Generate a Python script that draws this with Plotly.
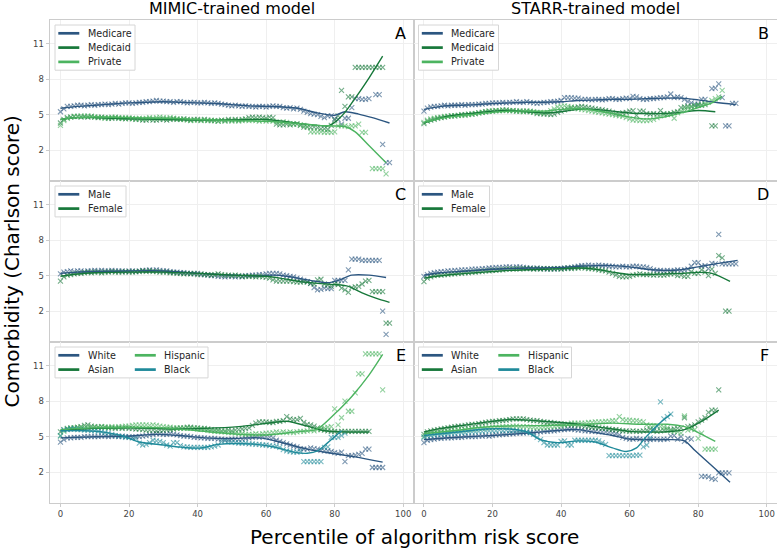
import plotly.graph_objects as go
from plotly.subplots import make_subplots

# ---------------- data ----------------
PCT = list(range(0, 97))  # percentile bins of algorithm risk score

# Panel A (MIMIC, insurance) - binned means
A_medicare = [5.25,5.5,5.7,5.7,5.75,5.8,5.8,5.75,5.8,5.85,
              5.8,5.85,5.85,5.9,5.85,5.9,5.95,5.9,5.95,6.0,
              6.0,5.95,6.0,6.05,6.05,6.1,6.1,6.15,6.2,6.15,
              6.15,6.1,6.1,6.05,6.1,6.1,6.05,6.0,6.05,6.05,
              6.0,6.0,6.05,6.0,5.95,6.0,5.95,5.9,5.85,5.8,
              5.75,5.8,5.75,5.7,5.75,5.7,5.7,5.65,5.7,5.7,
              5.65,5.7,5.75,5.7,5.7,5.6,5.55,5.6,5.5,5.55,
              5.45,5.3,5.2,5.1,5.05,5.0,4.85,4.75,4.9,4.9,
              4.65,4.6,4.2,4.7,4.7,5.6,6.35,6.35,6.3,6.3,
              6.35,None,6.7,6.7,2.5,0.95,0.95]
A_medicaid = [4.3,4.6,4.75,4.8,4.85,4.85,4.8,4.85,4.8,4.85,
              4.8,4.75,4.8,4.75,4.7,4.7,4.75,4.7,4.7,4.65,
              4.7,4.65,4.6,4.6,4.55,4.55,4.6,4.55,4.55,4.6,
              4.6,4.55,4.6,4.65,4.6,4.6,4.65,4.6,4.55,4.6,
              4.6,4.55,4.6,4.55,4.5,4.5,4.45,4.55,4.5,4.6,
              4.55,4.6,4.55,4.6,4.65,4.75,4.8,4.75,4.8,4.75,
              4.7,4.8,4.75,4.2,4.15,4.15,4.2,4.15,4.2,4.2,
              4.1,3.95,3.95,3.9,3.95,3.9,3.8,3.8,3.75,4.1,
              4.55,4.9,7.05,5.7,6.5,6.5,9.0,9.0,9.0,9.0,
              9.0,9.0,9.0,9.0,9.0]
A_private = [4.1,4.5,4.7,4.8,4.85,4.85,4.9,4.85,4.9,4.85,
             4.8,4.8,4.75,4.7,4.75,4.8,4.8,4.75,4.7,4.75,
             4.7,4.7,4.65,4.7,4.65,4.7,4.75,4.7,4.75,4.8,
             4.75,4.7,4.75,4.7,4.65,4.6,4.6,4.55,4.5,4.55,
             4.55,4.5,4.55,4.5,4.55,4.5,4.45,4.5,4.45,4.5,
             4.45,4.5,4.45,4.5,4.55,4.5,4.55,4.5,4.45,4.5,
             4.45,4.5,4.45,4.4,4.35,4.4,4.35,4.25,4.2,4.25,
             4.15,4.1,4.0,3.55,3.55,3.55,3.55,3.5,3.5,3.5,
             3.55,4.05,4.05,4.05,4.0,4.05,4.05,4.2,3.5,3.5,
             None,0.45,0.45,0.45,0.45,0.0]

# Panel B (STARR, insurance)
B_medicare = [5.3,5.55,5.65,5.7,5.7,5.75,5.8,5.75,5.8,5.8,
              5.8,5.85,5.8,5.85,5.85,5.85,5.9,5.9,5.95,5.95,
              6.0,6.0,6.0,6.05,6.0,6.05,6.05,6.1,6.05,6.05,
              6.1,6.05,6.0,5.95,6.0,6.05,6.05,6.1,6.1,6.15,
              6.2,6.45,6.45,6.45,6.4,6.4,6.3,6.3,6.3,6.25,
              6.3,6.3,6.25,6.3,6.35,6.35,6.3,6.3,6.35,6.4,
              6.35,6.55,6.5,6.35,6.3,6.3,6.35,6.35,6.4,6.45,
              6.45,6.5,6.75,6.45,6.5,6.45,6.3,6.1,6.0,5.9,
              5.9,6.3,6.3,None,7.2,7.25,7.6,6.45,4.05,4.05,
              5.95,5.95]
B_medicaid = [4.25,4.45,4.55,4.6,4.7,4.75,4.8,4.85,4.9,4.9,
              4.95,5.0,5.0,5.05,5.05,5.1,5.15,5.2,5.25,5.3,
              5.3,5.35,5.35,5.4,5.4,5.35,5.35,5.3,5.3,5.3,
              5.3,5.25,5.2,5.1,5.1,5.05,5.05,5.0,5.05,5.2,
              5.3,5.4,5.5,5.55,5.6,5.65,5.7,5.65,5.6,5.55,
              5.5,5.45,5.4,5.35,5.3,5.2,5.1,5.05,5.15,5.2,
              5.3,5.35,4.95,5.3,5.3,5.1,5.05,5.1,5.05,5.35,
              5.1,5.05,5.1,5.2,5.25,5.6,5.65,5.7,5.7,5.75,
              5.8,5.8,5.85,None,4.05,4.05]
B_private = [4.35,4.55,4.65,4.7,4.75,4.8,4.85,4.85,4.9,4.9,
             4.95,4.95,4.95,5.0,5.05,5.1,5.15,5.2,5.25,5.3,
             5.3,5.35,5.35,5.35,5.35,5.35,5.35,5.3,5.3,5.25,
             5.3,5.3,5.25,5.2,5.2,5.15,5.2,5.35,5.5,5.65,
             5.7,5.75,5.7,5.65,5.55,5.5,5.45,5.4,5.35,5.3,
             5.25,5.2,5.15,5.1,5.05,5.0,4.95,4.9,4.85,4.75,
             4.65,4.55,4.55,4.5,4.5,4.5,4.55,4.6,4.75,4.9,
             4.95,5.0,5.1,4.7,5.15,5.3,5.45,5.55,5.65,5.75,
             5.8,5.85,5.95,6.05,6.2,6.35,6.5,7.05]

# Panel C (MIMIC, sex)
C_male = [5.15,5.3,5.35,5.4,5.35,5.4,5.4,5.35,5.4,5.4,
          5.45,5.4,5.45,5.4,5.4,5.45,5.4,5.4,5.4,5.35,
          5.4,5.4,5.35,5.4,5.45,5.45,5.5,5.45,5.5,5.45,
          5.4,5.4,5.35,5.3,5.3,5.25,5.25,5.2,5.2,5.15,
          5.2,5.1,5.1,5.05,5.0,5.0,4.95,4.95,4.9,4.95,
          4.95,4.9,4.95,4.9,5.0,5.0,5.05,5.05,5.1,5.1,
          5.15,5.2,5.2,5.2,5.15,5.05,5.0,4.95,4.9,4.8,
          4.7,4.6,4.5,4.35,4.0,3.8,3.85,3.95,3.9,3.9,
          4.6,4.6,4.6,4.6,5.5,6.4,6.4,6.4,6.3,6.3,
          6.3,6.3,6.3,6.3,2.0,0.05]
C_female = [4.55,4.9,5.05,5.1,5.15,5.2,5.2,5.25,5.3,5.25,
            5.3,5.3,5.25,5.3,5.3,5.35,5.3,5.3,5.3,5.35,
            5.3,5.3,5.35,5.35,5.4,5.35,5.4,5.35,5.35,5.3,
            5.3,5.3,5.25,5.25,5.2,5.2,5.15,5.2,5.15,5.2,
            5.1,5.15,5.1,5.1,5.05,5.1,5.15,5.1,5.05,5.05,
            5.0,5.05,5.0,4.95,4.95,4.95,4.95,4.9,4.95,4.9,
            4.85,4.8,4.65,4.55,4.55,4.55,4.55,4.55,4.5,4.45,
            4.45,4.5,4.45,4.35,4.3,4.65,4.7,4.3,4.2,4.1,
            4.3,4.25,3.95,3.8,3.6,4.0,4.05,4.1,4.3,4.55,
            4.6,3.65,3.65,3.65,3.65,1.0,1.0]

# Panel D (STARR, sex)
D_male = [4.95,5.1,5.2,5.25,5.3,5.35,5.35,5.4,5.4,5.45,
          5.45,5.5,5.5,5.5,5.55,5.55,5.55,5.6,5.6,5.65,
          5.65,5.7,5.7,5.7,5.75,5.75,5.7,5.75,5.75,5.7,
          5.65,5.65,5.6,5.65,5.6,5.6,5.55,5.6,5.55,5.6,
          5.6,5.65,5.65,5.7,5.75,5.8,5.85,5.85,5.9,5.85,
          5.85,5.9,5.85,5.85,5.8,5.8,5.75,5.75,5.8,5.75,
          5.75,5.8,5.8,5.75,5.75,5.7,5.6,5.5,5.45,5.45,
          5.4,5.45,5.4,5.45,5.5,5.45,5.5,5.55,5.8,6.1,
          6.1,5.8,5.85,5.6,6.05,6.0,8.5,6.0,6.0,6.0,
          6.0,6.0]
D_female = [4.5,4.8,4.9,5.0,5.05,5.05,5.1,5.1,5.15,5.15,
            5.2,5.2,5.25,5.25,5.3,5.3,5.35,5.35,5.4,5.4,
            5.45,5.45,5.5,5.5,5.55,5.55,5.55,5.6,5.55,5.6,
            5.6,5.6,5.55,5.6,5.55,5.6,5.6,5.55,5.6,5.6,
            5.55,5.6,5.65,5.6,5.65,5.65,5.7,5.65,5.6,5.6,
            5.55,5.5,5.45,5.4,5.3,5.2,5.05,4.95,4.9,4.9,
            4.95,5.05,5.1,5.15,5.1,5.1,5.1,5.05,5.1,5.05,
            5.05,5.1,5.15,5.15,5.0,5.05,4.95,4.95,5.35,5.2,
            5.2,5.5,5.3,5.0,5.55,5.2,6.7,6.5,2.0,2.0]

# Panel E (MIMIC, race/ethnicity)
E_white = [4.55,4.75,4.9,4.9,4.95,4.95,4.95,5.0,5.0,5.0,
           5.0,5.0,5.05,5.05,5.0,5.05,5.05,5.0,5.05,5.0,
           5.0,4.95,5.0,5.0,5.05,5.1,5.15,5.2,5.25,5.25,
           5.2,5.2,5.25,5.2,5.15,5.1,5.05,5.05,5.0,4.95,
           4.95,4.9,4.9,4.85,4.85,4.85,4.8,4.8,4.75,4.75,
           4.8,4.8,4.75,4.8,4.85,4.9,4.95,5.0,4.95,5.0,
           5.0,4.95,4.9,4.7,4.6,4.5,4.4,4.3,4.2,4.15,
           4.0,3.95,3.95,4.05,4.0,3.95,3.85,3.8,3.8,3.75,
           3.65,3.6,3.7,2.9,3.4,3.4,3.45,3.5,3.6,3.95,
           3.95,2.4,2.4,2.4,2.4]
E_asian = [5.4,5.6,5.7,5.75,5.75,5.8,5.85,5.95,6.0,5.9,
           5.85,5.8,5.85,5.8,5.75,5.75,5.7,5.75,5.7,5.75,
           5.7,5.7,5.65,5.65,5.6,5.55,5.55,5.55,5.5,5.55,
           5.55,5.6,5.6,5.65,5.7,5.75,5.75,5.8,5.8,5.75,
           5.75,5.7,5.7,5.65,5.6,5.55,5.55,5.5,5.5,5.55,
           5.5,5.55,5.6,5.65,5.7,5.75,5.95,6.15,6.25,6.25,
           6.25,6.2,6.2,6.3,6.3,6.35,6.7,6.5,6.45,6.45,
           6.55,6.2,6.05,6.0,5.9,5.75,5.6,5.55,5.5,5.45,
           5.45,5.4,5.45,5.45,5.45,5.45,5.45,5.45,5.45,5.45,
           5.45]
E_hispanic = [5.05,5.45,5.65,5.7,5.75,5.75,5.8,5.75,5.8,5.75,
              5.8,5.8,5.85,5.8,5.8,5.85,5.8,5.85,5.85,5.9,
              5.9,5.95,6.0,6.0,6.0,6.0,5.95,6.0,5.95,5.9,
              5.85,5.8,5.8,5.75,5.75,5.7,5.7,5.75,5.7,5.7,
              5.65,5.65,5.6,5.55,5.5,5.45,5.45,5.4,5.4,5.35,
              5.35,5.3,5.25,5.25,5.2,5.2,5.2,5.25,5.2,5.25,
              5.3,5.3,5.35,5.4,5.35,5.4,5.35,5.4,5.35,5.4,
              5.45,5.45,5.5,5.55,5.5,5.6,5.65,5.75,5.8,5.85,
              7.35,6.0,6.6,8.0,7.15,7.15,8.7,10.3,10.3,12.0,
              12.0,12.0,12.0,12.0,8.95]
E_black = [5.1,5.55,5.6,5.65,5.65,5.6,5.6,5.55,5.55,5.5,
           5.5,5.45,5.4,5.35,5.3,5.2,5.1,5.05,5.0,4.95,
           4.95,4.9,4.85,4.45,4.3,4.35,4.5,4.7,4.65,4.6,
           4.5,4.3,4.2,4.5,4.5,4.25,4.15,4.15,4.1,4.1,
           4.1,4.1,4.1,4.1,4.15,4.2,4.3,4.6,4.65,4.6,
           4.55,4.5,4.45,4.45,4.45,4.4,4.4,4.35,4.35,4.3,
           4.3,4.25,4.2,4.2,4.1,3.9,3.8,3.75,3.7,3.7,
           3.75,2.9,2.9,2.9,2.9,2.9,2.9,4.1,4.15,4.95,
           4.95,4.95,5.1,5.3]

# Panel F (STARR, race/ethnicity)
F_white = [4.5,4.7,4.75,4.8,4.85,4.85,4.9,4.9,4.9,4.95,
           4.95,4.95,5.0,5.0,5.0,5.0,5.05,5.05,5.1,5.05,
           5.1,5.15,5.15,5.2,5.2,5.25,5.25,5.3,5.3,5.3,
           5.35,5.35,5.35,5.4,5.4,5.45,5.45,5.5,5.5,5.55,
           5.6,5.6,5.65,5.65,5.6,5.55,5.55,5.5,5.5,5.45,
           5.45,5.4,5.4,5.4,5.35,5.3,5.25,5.15,4.95,4.85,
           4.8,4.8,4.85,4.8,4.75,4.75,4.75,4.8,4.8,4.75,
           4.8,4.8,5.05,5.1,4.8,5.0,4.6,4.85,4.8,None,
           None,1.65,1.65,1.6,1.45,1.4,1.95,1.95,1.95,1.95]
F_asian = [5.2,5.4,5.5,5.55,5.6,5.65,5.7,5.75,5.8,5.85,
           5.9,5.9,5.95,6.0,6.05,6.05,6.1,6.15,6.2,6.25,
           6.3,6.3,6.35,6.35,6.4,6.45,6.5,6.5,6.5,6.5,
           6.45,6.4,6.35,6.35,6.3,6.25,6.2,6.2,6.15,6.1,
           6.1,6.05,6.05,6.0,6.0,5.95,5.95,5.9,5.85,5.8,
           5.8,5.75,5.7,5.7,5.65,5.6,5.6,5.55,5.5,5.5,
           5.45,5.5,5.45,5.45,5.5,5.55,5.65,5.5,5.45,5.5,
           5.55,5.6,5.6,5.65,5.7,5.75,6.6,5.85,5.9,6.0,
           6.25,6.4,6.6,7.05,7.25,7.25,8.95]
F_hispanic = [5.0,5.2,5.3,5.35,5.35,5.4,5.4,5.45,5.5,5.5,
              5.55,5.55,5.6,5.6,5.65,5.65,5.7,5.7,5.75,5.75,
              5.8,5.8,5.8,5.85,5.85,5.85,5.9,5.9,5.85,5.85,
              5.85,5.8,5.8,5.75,5.75,5.8,5.8,5.85,5.85,5.9,
              5.9,5.95,6.05,6.15,6.15,6.15,6.15,6.15,6.2,6.2,
              6.25,6.25,6.25,6.3,6.3,6.35,6.35,6.7,6.45,6.4,
              6.4,6.35,6.35,6.3,6.25,6.0,5.95,5.9,5.9,5.85,
              5.8,5.75,5.5,5.45,5.4,5.3,6.75,5.55,5.65,5.6,
              4.85,5.3,3.95,3.95,3.95,3.95]
F_black = [4.95,5.05,5.1,5.15,5.2,5.2,5.25,5.25,5.3,5.3,
           5.35,5.35,5.35,5.4,5.4,5.4,5.45,5.45,5.5,5.5,
           5.5,5.5,5.55,5.5,5.55,5.5,5.5,5.5,5.45,5.45,
           5.4,5.35,5.2,4.95,4.75,4.5,4.3,4.3,4.3,4.3,
           4.6,4.65,4.3,4.3,4.7,4.7,4.7,4.7,4.7,4.7,
           4.7,4.65,4.5,4.35,3.4,3.4,3.4,3.4,3.4,3.4,
           3.4,3.4,3.45,3.45,4.15,4.3,4.9,5.6,5.9,7.95,
           6.5,6.7,6.9]

# Smoothed (LOWESS-like) trend lines
LA_medicare_x = [0,5,10,15,20,25,30,35,40,45,50,55,60,65,70,75,80,83,87,91,96]
LA_medicare_y = [5.55,5.7,5.8,5.9,6.0,6.05,6.1,6.05,6.0,5.95,5.85,5.75,5.7,5.65,5.5,5.15,4.95,5.25,5.05,4.75,4.3]
LA_medicaid_x = [0,5,10,20,30,40,50,60,65,70,75,78,80,83,86,90,94]
LA_medicaid_y = [4.6,4.75,4.75,4.65,4.6,4.55,4.55,4.6,4.45,4.25,4.1,4.05,4.35,5.2,6.4,8.1,9.95]
LA_private_x = [0,5,10,20,30,40,50,60,70,75,80,83,86,90,95]
LA_private_y = [4.6,4.75,4.8,4.75,4.7,4.6,4.5,4.45,4.25,4.1,4.05,4.0,3.55,2.4,0.95]

LB_medicare_x = [0,5,10,15,20,25,30,35,40,45,50,55,60,65,70,75,80,85,91]
LB_medicare_y = [5.45,5.7,5.8,5.85,5.95,6.0,6.05,6.05,6.1,6.2,6.25,6.3,6.3,6.35,6.4,6.4,6.25,6.05,5.85]
LB_medicaid_x = [0,5,10,15,20,25,30,35,40,45,50,55,60,65,70,75,80,85]
LB_medicaid_y = [4.3,4.75,5.0,5.15,5.3,5.35,5.25,5.15,5.25,5.45,5.45,5.3,5.15,5.1,5.1,5.2,5.35,5.25]
LB_private_x = [0,5,10,15,20,25,30,35,40,45,50,55,60,65,70,75,80,84,87]
LB_private_y = [4.35,4.7,4.9,5.05,5.2,5.3,5.3,5.3,5.45,5.5,5.35,5.1,4.8,4.65,4.8,5.15,5.6,6.0,6.55]

LC_male_x = [0,5,10,20,30,40,50,58,62,66,70,74,78,81,85,90,95]
LC_male_y = [5.2,5.3,5.35,5.4,5.4,5.2,5.05,5.0,5.05,4.95,4.75,4.55,4.4,4.6,5.05,5.05,4.85]
LC_female_x = [0,5,10,20,30,40,50,60,65,70,75,80,84,88,92,96]
LC_female_y = [4.95,5.15,5.25,5.3,5.3,5.2,5.05,4.95,4.75,4.5,4.35,4.25,4.1,3.55,3.1,2.75]

LD_male_x = [0,5,10,15,20,25,30,35,40,45,50,55,60,65,70,75,80,85,91.5]
LD_male_y = [5.05,5.25,5.35,5.45,5.55,5.6,5.65,5.65,5.7,5.8,5.85,5.85,5.75,5.55,5.45,5.5,5.75,6.0,6.3]
LD_female_x = [0,5,10,15,20,25,30,35,40,45,50,55,60,65,70,75,80,84,89.3]
LD_female_y = [4.8,5.0,5.15,5.25,5.35,5.45,5.5,5.55,5.6,5.65,5.55,5.3,5.1,5.1,5.15,5.2,5.28,5.2,4.52]

LE_white_x = [0,10,20,28,35,42,50,58,64,72,79,86,94]
LE_white_y = [4.9,5.0,5.05,5.2,5.1,4.9,4.85,4.9,4.55,3.95,3.6,3.3,2.85]
LE_asian_x = [0,10,20,33,42,52,62,66,72,77,84,90]
LE_asian_y = [5.55,5.7,5.75,5.65,5.7,5.85,6.2,6.3,5.9,5.5,5.4,5.4]
LE_hispanic_x = [0,5,10,20,30,40,50,60,70,74,76,81,85,90,94]
LE_hispanic_y = [5.55,5.7,5.75,5.8,5.75,5.5,5.25,5.15,5.45,5.55,5.85,7.2,8.4,10.2,11.95]
LE_black_x = [0,7,13,18,23,30,35,41,46,56,62,68,72,75,78,82]
LE_black_y = [5.5,5.5,5.37,5.08,4.55,4.3,4.12,4.04,4.35,4.38,4.15,3.7,3.6,3.8,4.5,5.5]

LF_white_x = [0,10,20,30,40,45,50,55,60,65,70,76,79,84,89.3]
LF_white_y = [4.75,4.95,5.1,5.3,5.55,5.6,5.35,5.1,4.8,4.75,4.75,4.65,3.85,2.55,1.15]
LF_asian_x = [0,5,10,15,20,25,30,35,40,45,50,55,60,65,70,76,81,86]
LF_asian_y = [5.4,5.7,5.9,6.1,6.3,6.45,6.4,6.3,6.2,6.05,5.85,5.65,5.45,5.4,5.4,5.6,6.3,7.25]
LF_hispanic_x = [0,10,17,25,35,45,55,63,71,76,79,85]
LF_hispanic_y = [5.25,5.55,5.8,5.9,5.95,6.0,6.15,6.05,6.05,5.85,5.5,4.6]
LF_black_x = [0,10,18,25,30,34,39,45,50,55,59,62,65,69,72]
LF_black_y = [5.1,5.4,5.65,5.65,5.4,4.75,4.5,4.65,4.55,4.05,3.75,4.05,5.05,6.2,6.9]

X_TICKS = [0, 20, 40, 60, 80, 100]
Y_TICKS = [2, 5, 8, 11]
COL_TITLES = ["MIMIC-trained model", "STARR-trained model"]
PANEL_LETTERS = ["A", "B", "C", "D", "E", "F"]

# ---------------- style ----------------
BLUE = (44, 86, 128)
DKGREEN = (23, 120, 58)
LTGREEN = (76, 180, 96)
TEAL = (31, 138, 154)

def rgb(c, a=None):
    if a is None:
        return "rgb(%d,%d,%d)" % c
    return "rgba(%d,%d,%d,%.2f)" % (c + (a,))

panels = [
    (1, 1, [("Medicare", A_medicare, LA_medicare_x, LA_medicare_y, BLUE),
            ("Medicaid", A_medicaid, LA_medicaid_x, LA_medicaid_y, DKGREEN),
            ("Private", A_private, LA_private_x, LA_private_y, LTGREEN)]),
    (1, 2, [("Medicare", B_medicare, LB_medicare_x, LB_medicare_y, BLUE),
            ("Medicaid", B_medicaid, LB_medicaid_x, LB_medicaid_y, DKGREEN),
            ("Private", B_private, LB_private_x, LB_private_y, LTGREEN)]),
    (2, 1, [("Male", C_male, LC_male_x, LC_male_y, BLUE),
            ("Female", C_female, LC_female_x, LC_female_y, DKGREEN)]),
    (2, 2, [("Male", D_male, LD_male_x, LD_male_y, BLUE),
            ("Female", D_female, LD_female_x, LD_female_y, DKGREEN)]),
    (3, 1, [("White", E_white, LE_white_x, LE_white_y, BLUE),
            ("Asian", E_asian, LE_asian_x, LE_asian_y, DKGREEN),
            ("Hispanic", E_hispanic, LE_hispanic_x, LE_hispanic_y, LTGREEN),
            ("Black", E_black, LE_black_x, LE_black_y, TEAL)]),
    (3, 2, [("White", F_white, LF_white_x, LF_white_y, BLUE),
            ("Asian", F_asian, LF_asian_x, LF_asian_y, DKGREEN),
            ("Hispanic", F_hispanic, LF_hispanic_x, LF_hispanic_y, LTGREEN),
            ("Black", F_black, LF_black_x, LF_black_y, TEAL)]),
]

W, H = 777, 548
ML, MR, MT, MB = 50, 0, 20, 45
PW, PH = W - ML - MR, H - MT - MB
FONT = "DejaVu Sans"

def pxx(x):
    return (x - ML) / PW

def pyy(y):
    return 1 - (y - MT) / PH

fig = make_subplots(rows=3, cols=2, horizontal_spacing=0, vertical_spacing=0)

for r, c, series in panels:
    for name, vals, lx, ly, col in series:
        fig.add_trace(go.Scatter(
            x=PCT[:len(vals)], y=vals, mode="markers", name=name,
            marker=dict(symbol="x-thin", size=5, color=rgb(col, 0.6),
                        line=dict(width=1.1, color=rgb(col, 0.6))),
            showlegend=False, hoverinfo="skip"), row=r, col=c)
    for name, vals, lx, ly, col in series:
        fig.add_trace(go.Scatter(
            x=lx, y=ly, mode="lines", name=name,
            line=dict(color=rgb(col), width=1.4, shape="spline", smoothing=0.8),
            showlegend=False, hoverinfo="skip"), row=r, col=c)

XR = [-3.05, 103.0]
YR = [-0.6, 13.0]
GRID = "#efefef"
EDGE = "#cccccc"

for r in (1, 2, 3):
    for c in (1, 2):
        fig.update_xaxes(row=r, col=c, range=XR, tickvals=X_TICKS,
                         domain=[0, 0.5] if c == 1 else [0.5, 1.0],
                         showgrid=True, gridcolor=GRID, gridwidth=1,
                         showline=True, linecolor=EDGE, linewidth=1, mirror=True,
                         zeroline=False,
                         ticks="outside" if r == 3 else "", ticklen=3, tickcolor=EDGE,
                         showticklabels=(r == 3),
                         tickfont=dict(family=FONT, size=8.5, color="#444444"))
        fig.update_yaxes(row=r, col=c, range=YR, tickvals=Y_TICKS,
                         domain=[1 - r / 3, 1 - (r - 1) / 3],
                         showgrid=True, gridcolor=GRID, gridwidth=1,
                         showline=True, linecolor=EDGE, linewidth=1, mirror=True,
                         zeroline=False,
                         ticks="outside" if c == 1 else "", ticklen=3.5, tickcolor=EDGE,
                         showticklabels=(c == 1),
                         tickfont=dict(family=FONT, size=8.5, color="#444444"))

annotations = []
shapes = []

# panel letters
col_left = {1: ML, 2: ML + PW / 2}
col_right = {1: ML + PW / 2, 2: W}
row_top = {1: MT, 2: MT + PH / 3, 3: MT + 2 * PH / 3}
for i, (r, c, series) in enumerate(panels):
    annotations.append(dict(x=pxx(col_right[c] - 6), y=pyy(row_top[r] + 13.3),
                            xref="paper", yref="paper", xanchor="right", yanchor="middle",
                            text=PANEL_LETTERS[i], showarrow=False,
                            font=dict(family=FONT, size=16, color="black")))

# legends (drawn boxes)
for r, c, series in panels:
    x0 = col_left[c] + 5
    y0 = row_top[r] + 5
    ncols = 2 if len(series) == 4 else 1
    nrows = (len(series) + ncols - 1) // ncols
    if ncols == 2:
        bw = 153
    else:
        bw = 80 if r == 1 else 71
    bh = 16.6 + 14.3 * (nrows - 1)
    shapes.append(dict(type="rect", xref="paper", yref="paper",
                       x0=pxx(x0), x1=pxx(x0 + bw), y0=pyy(y0), y1=pyy(y0 + bh),
                       fillcolor="white", line=dict(color="#d6d6d6", width=1),
                       layer="above"))
    for k, (name, vals, lx, ly, col) in enumerate(series):
        ci = k // nrows
        ri = k % nrows
        yc = y0 + 8.3 + 14.3 * ri
        sx = x0 + 3.3 + 76.5 * ci
        shapes.append(dict(type="line", xref="paper", yref="paper",
                           x0=pxx(sx), x1=pxx(sx + 21.0), y0=pyy(yc), y1=pyy(yc),
                           line=dict(color=rgb(col), width=2.7), layer="above"))
        annotations.append(dict(x=pxx(sx + 27.4), y=pyy(yc), xref="paper", yref="paper",
                                xanchor="left", yanchor="middle", text=name,
                                showarrow=False,
                                font=dict(family=FONT, size=9.6, color="#262626")))

# column titles
for c, t in zip((1, 2), COL_TITLES):
    annotations.append(dict(x=pxx((col_left[c] + col_right[c]) / 2), y=pyy(8.5),
                            xref="paper", yref="paper", xanchor="center", yanchor="middle",
                            text=t, showarrow=False,
                            font=dict(family=FONT, size=16, color="black")))

# axis titles
annotations.append(dict(x=pxx(11), y=0.5, xref="paper", yref="paper",
                        xanchor="center", yanchor="middle", textangle=-90,
                        text="Comorbidity (Charlson score)", showarrow=False,
                        font=dict(family=FONT, size=20, color="black")))
annotations.append(dict(x=pxx(414), y=pyy(537), xref="paper", yref="paper",
                        xanchor="center", yanchor="middle",
                        text="Percentile of algorithm risk score", showarrow=False,
                        font=dict(family=FONT, size=20, color="black")))

fig.update_layout(width=W, height=H,
                  margin=dict(l=ML, r=MR, t=MT, b=MB, pad=0),
                  paper_bgcolor="white", plot_bgcolor="white",
                  showlegend=False, annotations=annotations, shapes=shapes,
                  font=dict(family=FONT))

fig.write_html("out.html", config={"displayModeBar": False},
               post_script="document.body.style.margin='0';document.body.style.overflow='hidden';")
